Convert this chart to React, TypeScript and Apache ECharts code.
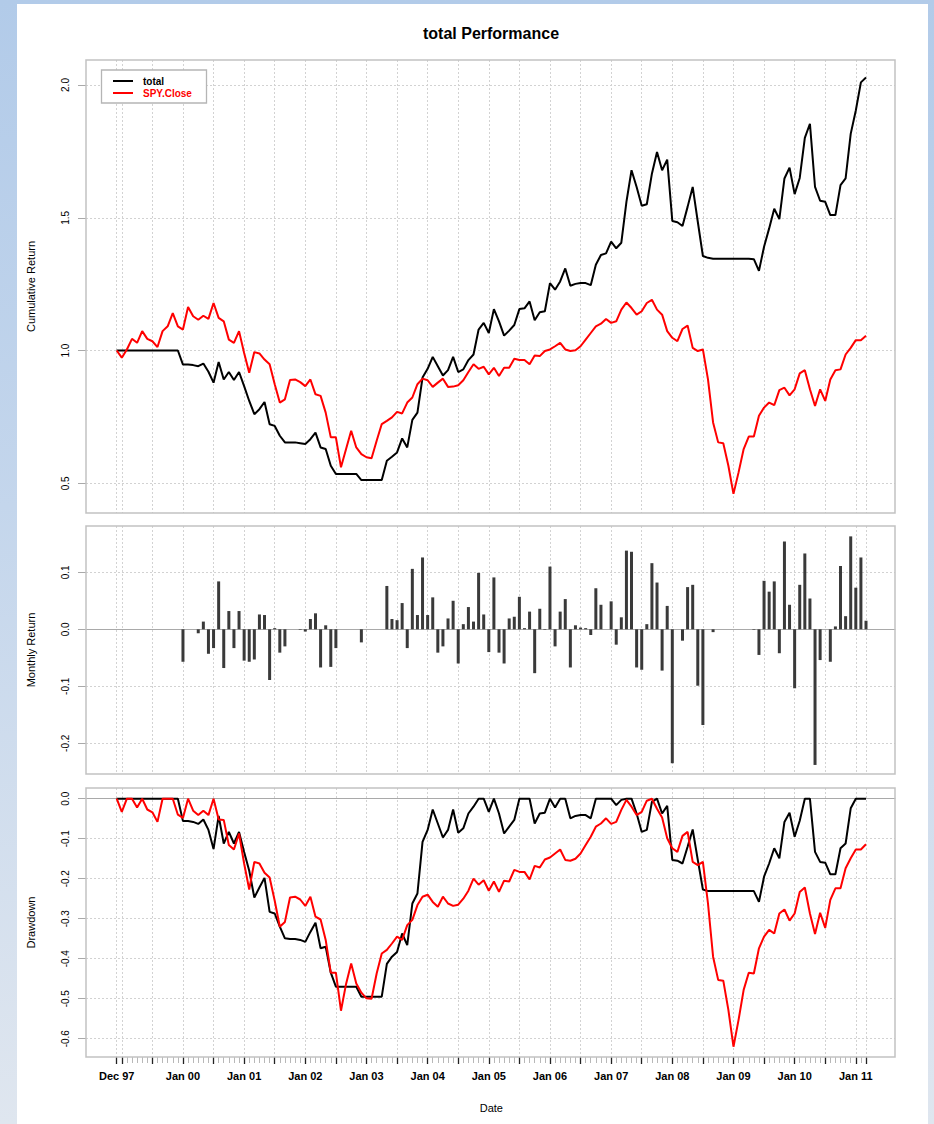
import React, { useEffect, useRef } from "react";
import * as echarts from "echarts";

// ---------- categories (observation dates) ----------
const MONTHS = ["Jan", "Feb", "Mar", "Apr", "May", "Jun", "Jul", "Aug", "Sep", "Oct", "Nov", "Dec"];
const dates: string[] = ["Dec 97"];
for (let y = 1999; y <= 2011; y++) {
  for (let m = 0; m < 12; m++) {
    if (y === 2011 && m > 2) break;
    dates.push(`${MONTHS[m]} ${String(y % 100).padStart(2, "0")}`);
  }
}

// ---------- series values ----------
const totalCum = [
  1, 1, 1, 1, 1, 1, 1, 1, 1, 1, 1, 1, 1,
  0.947, 0.947, 0.945, 0.941, 0.951, 0.92, 0.879, 0.957, 0.891, 0.919,
  0.889, 0.919, 0.866, 0.81, 0.76, 0.779, 0.806, 0.722, 0.716, 0.679,
  0.654, 0.654, 0.654, 0.651, 0.648, 0.666, 0.691, 0.635, 0.629, 0.566,
  0.535, 0.535, 0.535, 0.535, 0.535, 0.512, 0.512, 0.512, 0.512, 0.512,
  0.585, 0.6, 0.616, 0.669, 0.635, 0.739, 0.766, 0.898, 0.931, 0.976,
  0.941, 0.906, 0.926, 0.976, 0.919, 0.929, 0.964, 0.985, 1.079, 1.104,
  1.066, 1.156, 1.11, 1.056, 1.075, 1.096, 1.156, 1.159, 1.185, 1.114,
  1.144, 1.148, 1.254, 1.229, 1.26, 1.309, 1.244, 1.251, 1.254, 1.254,
  1.246, 1.323, 1.36, 1.366, 1.41, 1.385, 1.406, 1.56, 1.679, 1.616,
  1.545, 1.551, 1.666, 1.748, 1.679, 1.719, 1.488, 1.483, 1.469, 1.541,
  1.616, 1.485, 1.356, 1.349, 1.346, 1.346, 1.346, 1.346, 1.346, 1.346,
  1.346, 1.346, 1.344, 1.3, 1.391, 1.46, 1.534, 1.495, 1.648, 1.689,
  1.589, 1.65, 1.801, 1.854, 1.616, 1.564, 1.56, 1.51, 1.51, 1.623,
  1.648, 1.816, 1.904, 2.01, 2.028,
];

const spyCum = [
  1, 0.973, 1.004, 1.044, 1.029, 1.073, 1.044, 1.035, 1.013, 1.073,
  1.091, 1.141, 1.091, 1.079, 1.164, 1.129, 1.116, 1.131, 1.119, 1.179,
  1.123, 1.11, 1.041, 1.029, 1.073, 0.991, 0.916, 0.994, 0.989, 0.966,
  0.948, 0.873, 0.804, 0.816, 0.889, 0.891, 0.881, 0.866, 0.891, 0.835,
  0.829, 0.766, 0.673, 0.673, 0.56, 0.629, 0.698, 0.635, 0.61, 0.598,
  0.594, 0.66, 0.723, 0.735, 0.748, 0.769, 0.763, 0.804, 0.823, 0.873,
  0.894, 0.888, 0.863, 0.879, 0.894, 0.863, 0.864, 0.869, 0.888, 0.919,
  0.948, 0.931, 0.939, 0.91, 0.935, 0.904, 0.935, 0.935, 0.969, 0.964,
  0.964, 0.948, 0.981, 0.979, 0.998, 1.004, 1.016, 1.029, 1.004, 0.998,
  1.001, 1.016, 1.041, 1.066, 1.091, 1.101, 1.119, 1.104, 1.11, 1.154,
  1.181, 1.16, 1.135, 1.148, 1.179, 1.191, 1.154, 1.135, 1.073, 1.048,
  1.035, 1.081, 1.094, 1.01, 0.998, 1.004, 0.891, 0.729, 0.654, 0.651,
  0.566, 0.46, 0.541, 0.629, 0.676, 0.676, 0.754, 0.785, 0.804, 0.794,
  0.851, 0.86, 0.831, 0.854, 0.914, 0.926, 0.854, 0.791, 0.854, 0.81,
  0.891, 0.926, 0.929, 0.985, 1.01, 1.039, 1.039, 1.056,
];

const totalMonthly: (number | null)[] = [
  null, null, null, null, null, null, null, null, null, null, null, null, null,
  -0.057, 0, 0, -0.007, 0.0135, -0.043, -0.033, 0.084, -0.068, 0.032,
  -0.033, 0.032, -0.055, -0.057, -0.053, 0.026, 0.025, -0.089, 0.002, -0.041,
  -0.03, 0, 0, -0.001, -0.004, 0.018, 0.028, -0.067, 0.007, -0.066,
  -0.033, 0, 0, 0, 0, -0.023, 0, 0, 0, 0,
  0.076, 0.018, 0.016, 0.046, -0.033, 0.106, 0.025, 0.126, 0.025, 0.056,
  -0.041, -0.03, 0.019, 0.05, -0.06, 0.009, 0.039, 0.0135, 0.099, 0.026,
  -0.04, 0.091, -0.041, -0.06, 0.019, 0.022, 0.057, 0.002, 0.031, -0.077,
  0.036, -0.001, 0.11, -0.03, 0.031, 0.053, -0.067, 0.007, 0.003, 0.002,
  -0.01, 0.072, 0.043, 0, 0.049, -0.027, 0.021, 0.138, 0.136, -0.067,
  -0.071, 0.009, 0.116, 0.082, -0.0725, 0.041, -0.235, 0, -0.02, 0.074,
  0.078, -0.099, -0.168, 0, -0.005, 0, 0, 0, 0, 0,
  0, 0, -0.001, -0.045, 0.085, 0.066, 0.084, -0.042, 0.154, 0.043,
  -0.1035, 0.078, 0.133, 0.054, -0.238, -0.054, 0, -0.057, 0.005, 0.111,
  0.023, 0.163, 0.073, 0.126, 0.015,
];

const totalDrawdown = [
  0, 0, 0, 0, 0, 0, 0, 0, 0, 0, 0, 0, 0,
  -0.056, -0.056, -0.058, -0.063, -0.052, -0.078, -0.126, -0.043, -0.112, -0.083,
  -0.112, -0.083, -0.133, -0.18, -0.247, -0.222, -0.198, -0.283, -0.287, -0.32,
  -0.349, -0.351, -0.351, -0.353, -0.358, -0.333, -0.31, -0.374, -0.37, -0.435,
  -0.47, -0.47, -0.47, -0.47, -0.47, -0.495, -0.495, -0.495, -0.495, -0.495,
  -0.413, -0.395, -0.383, -0.337, -0.366, -0.262, -0.237, -0.108, -0.078, -0.027,
  -0.062, -0.097, -0.078, -0.027, -0.085, -0.074, -0.037, -0.02, 0, 0,
  -0.033, 0, -0.037, -0.087, -0.07, -0.053, 0, 0, 0, -0.062,
  -0.037, -0.035, 0, -0.022, 0, 0, -0.049, -0.043, -0.041, -0.041,
  -0.049, 0, 0, 0, 0, -0.016, -0.003, 0, 0, -0.037,
  -0.083, -0.078, -0.008, 0, -0.037, -0.018, -0.153, -0.155, -0.162, -0.12,
  -0.077, -0.153, -0.227, -0.231, -0.231, -0.231, -0.231, -0.231, -0.231, -0.231,
  -0.231, -0.231, -0.231, -0.258, -0.195, -0.162, -0.124, -0.149, -0.058, -0.035,
  -0.095, -0.055, 0, 0, -0.133, -0.158, -0.16, -0.189, -0.189, -0.124,
  -0.112, -0.024, 0, 0, 0,
];

const spyDrawdown = [
  0, -0.033, 0, 0, -0.022, 0, -0.027, -0.034, -0.058, 0,
  0, 0, -0.04, -0.048, 0, -0.03, -0.041, -0.03, -0.041, 0,
  -0.052, -0.053, -0.116, -0.127, -0.087, -0.162, -0.227, -0.158, -0.162, -0.185,
  -0.197, -0.255, -0.32, -0.308, -0.247, -0.245, -0.252, -0.268, -0.245, -0.295,
  -0.302, -0.353, -0.435, -0.435, -0.53, -0.463, -0.412, -0.462, -0.485, -0.499,
  -0.5, -0.437, -0.387, -0.378, -0.362, -0.345, -0.353, -0.316, -0.303, -0.266,
  -0.245, -0.24, -0.258, -0.27, -0.245, -0.262, -0.268, -0.265, -0.25, -0.23,
  -0.2, -0.215, -0.204, -0.23, -0.207, -0.233, -0.205, -0.207, -0.178, -0.183,
  -0.183, -0.202, -0.168, -0.172, -0.152, -0.147, -0.137, -0.127, -0.153, -0.155,
  -0.15, -0.137, -0.116, -0.095, -0.07, -0.062, -0.049, -0.063, -0.058, -0.028,
  -0.003, -0.02, -0.041, -0.033, -0.005, 0, -0.025, -0.047, -0.099, -0.124,
  -0.133, -0.093, -0.083, -0.158, -0.166, -0.158, -0.262, -0.395, -0.453, -0.455,
  -0.528, -0.62, -0.553, -0.478, -0.435, -0.437, -0.374, -0.345, -0.328, -0.337,
  -0.287, -0.277, -0.305, -0.287, -0.233, -0.222, -0.287, -0.338, -0.285, -0.323,
  -0.253, -0.224, -0.224, -0.174, -0.149, -0.127, -0.127, -0.114,
];

// tick values of the three value axes
const cumTicks = { min: 0.5, max: 2.0, interval: 0.5 };
const monthlyTicks = { min: -0.2, max: 0.1, interval: 0.1 };
const ddTicks = { min: -0.6, max: 0, interval: 0.1 };

// ---------- layout ----------
const W = 934;
const H = 1124;
const BOX_L = 86;
const BOX_R = 895;
const DATA_L = 116.7;
const DATA_R = 866;
const FONT = "'Liberation Sans', Arial, Helvetica, sans-serif";

const panels = [
  { boxTop: 60, boxBottom: 513, tickTop: 85, tickBottom: 483.3, dmin: 0.388, dmax: 2.0942 },
  { boxTop: 526, boxBottom: 774, tickTop: 572.3, tickBottom: 743.3, dmin: -0.2539, dmax: 0.1812 },
  { boxTop: 788, boxBottom: 1057, tickTop: 798.7, tickBottom: 1038.7, dmin: -0.64575, dmax: 0.02675 },
];

const LAST = dates.length - 1;
const isMajor = (i: number) => i === 0 || (i - 1) % 6 === 0 || i === LAST;
const isLabel = (i: number, v: string) => i === 0 || (i >= 13 && v.startsWith("Jan"));

const GRID_COLOR = "#d2d2d2";
const FRAME_COLOR = "#c2c2c2";
const AXIS_GRAY = "#a9a9a9";

function buildOption(): any {
  const grids: any[] = [];
  panels.forEach((p) =>
    grids.push({ left: BOX_L, right: W - BOX_R, top: p.tickTop, bottom: H - p.tickBottom })
  );
  panels.forEach((p) =>
    grids.push({ left: DATA_L, right: W - DATA_R, top: p.boxTop, bottom: H - p.boxBottom })
  );

  const tickSets = [cumTicks, monthlyTicks, ddTicks];
  const yNames = ["Cumulative Return", "Monthly Return", "Drawdown"];

  const xAxes: any[] = [];
  for (let g = 0; g < 3; g++) {
    xAxes.push({
      type: "value",
      gridIndex: g,
      min: 0,
      max: 1,
      show: g !== 0,
      position: "bottom",
      axisLine: { show: g !== 0, onZero: true, lineStyle: { color: AXIS_GRAY, width: 1 } },
      axisTick: { show: false },
      axisLabel: { show: false },
      splitLine: { show: false },
    });
  }
  for (let g = 0; g < 3; g++) {
    const bottom = g === 2;
    xAxes.push({
      type: "category",
      gridIndex: 3 + g,
      data: dates,
      boundaryGap: false,
      position: "bottom",
      axisLine: { show: false, onZero: false },
      axisTick: bottom
        ? { show: true, interval: 0, length: 6, lineStyle: { color: "#b8b8b8", width: 1 } }
        : { show: false },
      axisLabel: bottom
        ? {
            show: true,
            interval: (i: number, v: string) => isLabel(i, v),
            margin: 13,
            fontSize: 11,
            fontWeight: "bold",
            color: "#000",
            fontFamily: FONT,
          }
        : { show: false },
      splitLine: {
        show: true,
        interval: (i: number) => isMajor(i),
        lineStyle: { color: GRID_COLOR, type: [2, 2], width: 1 },
      },
      name: bottom ? "Date" : "",
      nameLocation: "middle",
      nameGap: 45,
      nameTextStyle: { fontSize: 11, color: "#000", fontFamily: FONT },
    });
  }
  xAxes.push({
    type: "category",
    gridIndex: 5,
    data: dates,
    boundaryGap: false,
    position: "bottom",
    axisLine: { show: false, onZero: false },
    axisTick: {
      show: true,
      interval: (i: number) => isMajor(i),
      length: 7,
      lineStyle: { color: "#222", width: 1.3 },
    },
    axisLabel: { show: false },
    splitLine: { show: false },
  });

  const yAxes: any[] = [];
  for (let g = 0; g < 3; g++) {
    const t = tickSets[g];
    yAxes.push({
      type: "value",
      gridIndex: g,
      position: "left",
      min: t.min,
      max: t.max,
      interval: t.interval,
      axisLine: { show: false },
      axisTick: { show: true, length: 8, lineStyle: { color: AXIS_GRAY, width: 1 } },
      axisLabel: {
        show: true,
        rotate: 90,
        margin: 16,
        fontSize: 10,
        color: "#000",
        fontFamily: FONT,
        formatter: (v: number) => v.toFixed(1),
      },
      splitLine: { show: true, lineStyle: { color: GRID_COLOR, type: [2, 2], width: 1 } },
    });
  }
  for (let g = 0; g < 3; g++) {
    const p = panels[g];
    yAxes.push({
      type: "value",
      gridIndex: 3 + g,
      position: "left",
      min: p.dmin,
      max: p.dmax,
      axisLine: { show: false },
      axisTick: { show: false },
      axisLabel: { show: false },
      splitLine: { show: false },
      name: yNames[g],
      nameLocation: "middle",
      nameGap: 80,
      nameTextStyle: { fontSize: 11, color: "#000", fontFamily: FONT },
    });
  }

  const lineBase = {
    type: "line",
    showSymbol: false,
    symbol: "none",
    smooth: false,
  };

  const series: any[] = [
    { ...lineBase, name: "total", xAxisIndex: 3, yAxisIndex: 3, data: totalCum, color: "#000", lineStyle: { width: 2, color: "#000" } },
    { ...lineBase, name: "SPY.Close", xAxisIndex: 3, yAxisIndex: 3, data: spyCum, color: "#ff0000", lineStyle: { width: 2, color: "#ff0000" } },
    {
      type: "bar",
      name: "total",
      xAxisIndex: 4,
      yAxisIndex: 4,
      data: totalMonthly,
      barWidth: 3,
      itemStyle: { color: "#3a3a3a", borderWidth: 0 },
    },
    { ...lineBase, name: "total", xAxisIndex: 5, yAxisIndex: 5, data: totalDrawdown, color: "#000", lineStyle: { width: 2, color: "#000" } },
    { ...lineBase, name: "SPY.Close", xAxisIndex: 5, yAxisIndex: 5, data: spyDrawdown, color: "#ff0000", lineStyle: { width: 2, color: "#ff0000" } },
  ];

  const frames = panels.map((p) => ({
    type: "rect",
    z: 50,
    silent: true,
    shape: { x: BOX_L, y: p.boxTop, width: BOX_R - BOX_L, height: p.boxBottom - p.boxTop },
    style: { fill: "none", stroke: FRAME_COLOR, lineWidth: 1.5 },
  }));

  const legendItems = [
    {
      type: "rect",
      z: 100,
      shape: { x: 101.5, y: 70, width: 105, height: 33 },
      style: { fill: "#fff", stroke: "#b5b5b5", lineWidth: 1.3 },
    },
    { type: "line", z: 101, shape: { x1: 113, y1: 81, x2: 133, y2: 81 }, style: { stroke: "#000", lineWidth: 2 } },
    { type: "line", z: 101, shape: { x1: 113, y1: 93, x2: 133, y2: 93 }, style: { stroke: "#ff0000", lineWidth: 2 } },
    {
      type: "text",
      z: 101,
      x: 143,
      y: 81,
      style: { text: "total", fill: "#000", font: `bold 10px ${FONT}`, verticalAlign: "middle", align: "left" },
    },
    {
      type: "text",
      z: 101,
      x: 143,
      y: 93,
      style: { text: "SPY.Close", fill: "#ff0000", font: `bold 10px ${FONT}`, verticalAlign: "middle", align: "left" },
    },
  ];

  const title = {
    type: "text",
    x: 491,
    y: 33,
    z: 100,
    style: {
      text: "total Performance",
      fill: "#000",
      font: `bold 16px ${FONT}`,
      align: "center",
      verticalAlign: "middle",
    },
  };

  return {
    animation: false,
    backgroundColor: "transparent",
    textStyle: { fontFamily: FONT },
    grid: grids,
    xAxis: xAxes,
    yAxis: yAxes,
    series,
    graphic: [...frames, ...legendItems, title],
  };
}

export default function App() {
  const ref = useRef<HTMLDivElement>(null);
  useEffect(() => {
    if (!ref.current) return;
    const chart = echarts.init(ref.current, null, { renderer: "svg" });
    chart.setOption(buildOption());
    return () => chart.dispose();
  }, []);
  return (
    <div
      style={{
        position: "fixed",
        left: 0,
        top: 0,
        width: W,
        height: H,
        overflow: "hidden",
        background: "linear-gradient(180deg, #b2cbe9 0%, #c4d6ec 45%, #dfe6ef 100%)",
      }}
    >
      <div style={{ position: "absolute", left: 17, top: 4, width: 911, height: H - 4, background: "#fff" }} />
      <div ref={ref} style={{ position: "absolute", left: 0, top: 0, width: W, height: H }} />
    </div>
  );
}
